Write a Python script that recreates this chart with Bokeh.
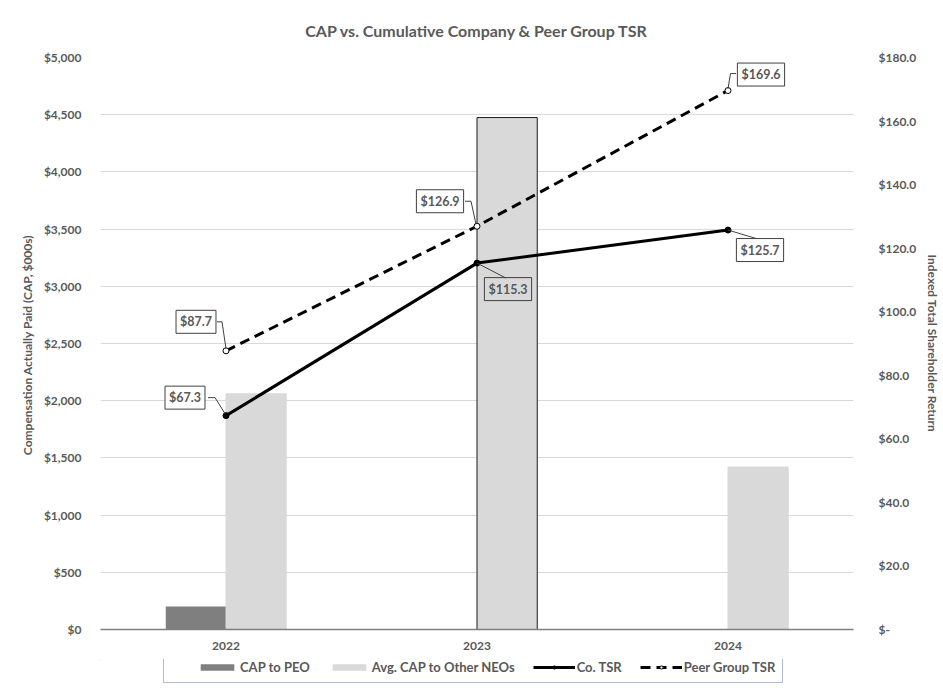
from bokeh.plotting import figure
from bokeh.layouts import column
from bokeh.models import (Range1d, LinearAxis, FixedTicker, SingleIntervalTicker,
                          NumeralTickFormatter, Legend, LegendItem, Label,
                          ColumnDataSource)
from bokeh.transform import dodge
from bokeh.embed import file_html
from bokeh.resources import INLINE

# ---- data -------------------------------------------------------------
years = ["2022", "2023", "2024"]
cap_peo = [200, 0, 0]            # CAP to PEO, $000s
cap_neo = [2060, 4475, 1420]     # Avg. CAP to other NEOs, $000s
co_tsr = [67.3, 115.3, 125.7]    # indexed company TSR
peer_tsr = [87.7, 126.9, 169.6]  # indexed peer group TSR

# ---- styling ----------------------------------------------------------
FONT = "Lato"
TXT = "#595959"
PEO_COLOR = "#7f7f7f"
NEO_COLOR = "#d9d9d9"
neo_outline = [NEO_COLOR, "#1a1a1a", NEO_COLOR]
PEER_DASH = "10 6"

# value call-outs: box centre and leader path as pixel offsets from the point
# (x to the right, y upwards)
callouts = {
    "peer": [
        dict(box=(-30, 29), path=[(-9, 29), (-4, 29), (0, 2)]),
        dict(box=(-37, 25), path=[(-12, 25), (-6, 25), (-1, 2)]),
        dict(box=(33, 16), path=[(8, 17), (2.5, 17), (0, 2)]),
    ],
    "co": [
        dict(box=(-41, 18), path=[(-18, 18), (-11, 18), (-1, 2)]),
        dict(box=(31, -26), path=[(0, 0), (29, -15)], fill=None),
        dict(box=(32, -20), path=[(0, 0), (30, -9)]),
    ],
}

W = 943
FW, FH = 753, 572
p = figure(frame_width=FW, frame_height=FH,
           x_range=Range1d(-0.5, 2.5), y_range=Range1d(0, 5000),
           output_backend="svg", toolbar_location=None,
           min_border_left=100, min_border_right=90, min_border_top=57, min_border_bottom=30,
           title="CAP vs. Cumulative Company & Peer Group TSR")
p.extra_y_ranges = {"tsr": Range1d(0, 180)}
p.outline_line_color = None
p.background_fill_color = "white"
p.border_fill_color = "white"

p.title.align = "center"
p.title.text_font = FONT
p.title.text_font_size = "16px"
p.title.text_font_style = "bold"
p.title.text_color = TXT
p.title.text_line_height = 1.0
p.title.standoff = 36

px_x = FW / 3.0      # pixels per category
px_t = FH / 180.0    # pixels per TSR unit

x = list(range(len(years)))

# ---- bars -------------------------------------------------------------
bars = ColumnDataSource(dict(x=x, peo=cap_peo, neo=cap_neo, outline=neo_outline))
p.vbar(x=dodge("x", -0.12, range=p.x_range), top="peo", width=0.24, source=bars,
       fill_color=PEO_COLOR, line_color=None)
p.vbar(x=dodge("x", 0.12, range=p.x_range), top="neo", width=0.24, source=bars,
       fill_color=NEO_COLOR, line_color="outline", line_width=1)

# ---- TSR lines ----------------------------------------------------------
tsr = ColumnDataSource(dict(x=x, co=co_tsr, peer=peer_tsr))
p.line("x", "co", source=tsr, y_range_name="tsr", line_color="black", line_width=3)
p.scatter("x", "co", source=tsr, y_range_name="tsr", size=6,
          fill_color="black", line_color="black")
p.line("x", "peer", source=tsr, y_range_name="tsr", line_color="black",
       line_width=3, line_dash=PEER_DASH)
p.scatter("x", "peer", source=tsr, y_range_name="tsr", size=6,
          fill_color="white", line_color="black", line_width=1)

# ---- call-out labels with leader lines ----------------------------------
for key, vals in (("peer", peer_tsr), ("co", co_tsr)):
    xs, ys = [], []
    for i, v in enumerate(vals):
        c = callouts[key][i]
        xs.append([i + dx / px_x for dx, dy in c["path"]])
        ys.append([v + dy / px_t for dx, dy in c["path"]])
        p.add_layout(Label(x=i, y=v, y_range_name="tsr",
                           x_offset=c["box"][0], y_offset=c["box"][1],
                           text=f"${v:.1f}", text_align="center", text_baseline="middle",
                           text_font=FONT, text_font_size="12.5px", text_font_style="bold",
                           text_color=TXT, background_fill_color=c.get("fill", "white"),
                           border_line_color="#404040", border_line_width=1, padding=4))
    p.multi_line(xs, ys, y_range_name="tsr", line_color="#404040", line_width=1)

# ---- axes ---------------------------------------------------------------
for ax in (p.xaxis[0], p.yaxis[0]):
    ax.major_tick_line_color = None
    ax.minor_tick_line_color = None
    ax.major_label_text_font = FONT
    ax.major_label_text_font_size = "12px"
    ax.major_label_text_font_style = "bold"
    ax.major_label_text_color = TXT

p.xaxis.ticker = FixedTicker(ticks=x)
p.xaxis.major_label_overrides = {i: yr for i, yr in enumerate(years)}
p.xaxis.axis_line_color = "#7f7f7f"
p.xaxis.axis_line_width = 1.5
p.xaxis.major_label_standoff = 6

p.yaxis.ticker = SingleIntervalTicker(interval=500)
p.yaxis.formatter = NumeralTickFormatter(format="$0,0")
p.yaxis.axis_line_color = None
p.yaxis.major_label_standoff = 13
p.yaxis.axis_label = "Compensation Actually Paid  (CAP, $000s)"
p.yaxis.axis_label_standoff = 6

right = LinearAxis(y_range_name="tsr", ticker=SingleIntervalTicker(interval=20),
                   formatter=NumeralTickFormatter(format="$0.0"),
                   axis_label="Indexed Total Shareholder Return")
right.major_label_overrides = {0: "$-"}
right.axis_line_color = None
right.major_tick_line_color = None
right.minor_tick_line_color = None
right.major_label_standoff = 19
right.major_label_text_font = FONT
right.major_label_text_font_size = "12px"
right.major_label_text_font_style = "bold"
right.major_label_text_color = TXT
right.axis_label_standoff = 6
p.add_layout(right, "right")

for ax in (p.yaxis[0], right):
    ax.axis_label_text_font = FONT
    ax.axis_label_text_font_size = "12px"
    ax.axis_label_text_font_style = "bold"
    ax.axis_label_text_color = TXT

p.xgrid.visible = False
p.ygrid.grid_line_color = "#d9d9d9"
p.ygrid.grid_line_width = 1

# ---- legend strip under the chart ----------------------------------------
# The key glyphs reuse the chart's sources; the strip's x range lies beyond
# the data, so only the legend itself shows up here.
LH = 36
lg = figure(width=W, height=LH, x_range=Range1d(5.5, 6.5), y_range=Range1d(-5, -4),
            output_backend="svg", toolbar_location=None, min_border=0)
lg.axis.visible = False
for ax in lg.axis:
    ax.axis_line_color = None
    ax.major_tick_line_color = None
    ax.minor_tick_line_color = None
lg.grid.visible = False
for g in lg.grid:
    g.grid_line_color = None
lg.outline_line_color = None
lg.border_fill_color = "white"
lg.background_fill_color = "white"

k_peo = lg.vbar(x="x", top="peo", width=0.24, source=bars, fill_color=PEO_COLOR, line_color=None)
k_neo = lg.vbar(x="x", top="neo", width=0.24, source=bars, fill_color=NEO_COLOR, line_color=None)
k_co = lg.line("x", "co", source=tsr, line_color="black", line_width=3)
k_com = lg.scatter("x", "co", source=tsr, size=6, fill_color="black", line_color="black")
k_peer = lg.line("x", "peer", source=tsr, line_color="black", line_width=3, line_dash=PEER_DASH)
k_peerm = lg.scatter("x", "peer", source=tsr, size=6, fill_color="white", line_color="black")

legend = Legend(items=[
    LegendItem(label="CAP to PEO", renderers=[k_peo]),
    LegendItem(label="Avg. CAP to Other NEOs", renderers=[k_neo]),
    LegendItem(label="Co. TSR", renderers=[k_co, k_com]),
    LegendItem(label="Peer Group TSR", renderers=[k_peer, k_peerm]),
], orientation="horizontal", location=(63, 12),
    glyph_width=42, glyph_height=8, label_height=8, label_standoff=2, spacing=18,
    padding=7, margin=0, title=" ", title_location="left", title_standoff=10,
    border_line_color="#5b7bb0", border_line_width=1, background_fill_color="white",
    label_text_font=FONT, label_text_font_size="13px", label_text_font_style="bold",
    label_text_color=TXT)
lg.add_layout(legend)

open("out.html", "w").write(file_html(column(p, lg, spacing=0), INLINE))
